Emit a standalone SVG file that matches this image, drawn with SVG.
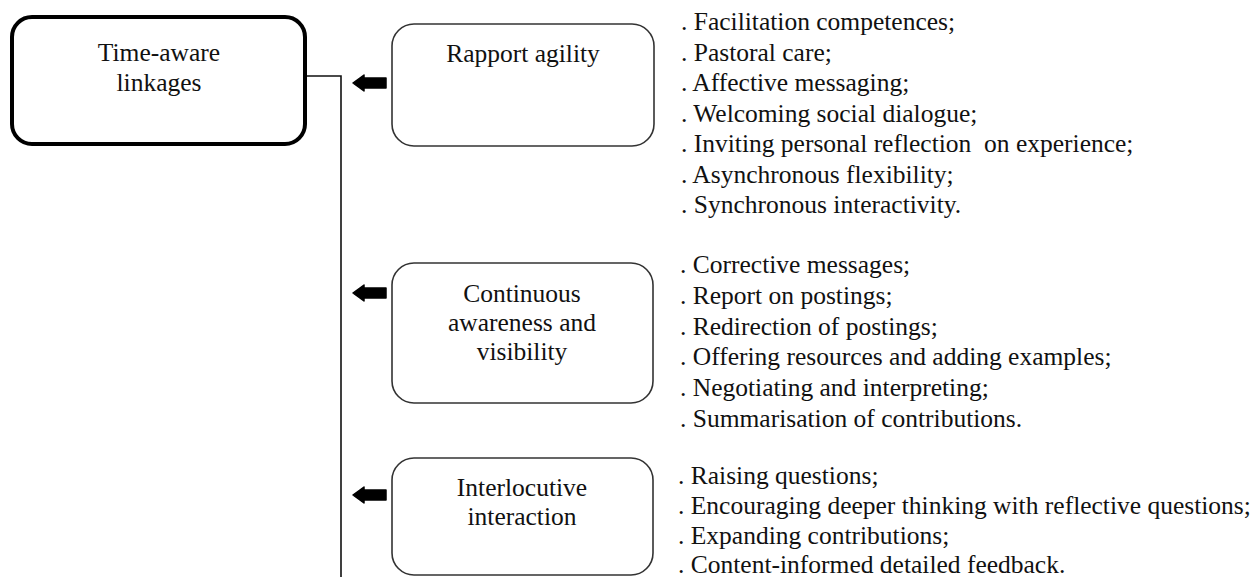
<svg xmlns="http://www.w3.org/2000/svg" width="1253" height="579" viewBox="0 0 1253 579">
  <style>
    text { font-family: "Liberation Serif", "Times New Roman", serif; font-size: 25.5px; fill: #111; }
    .c { text-anchor: middle; }
    .box { fill: #fff; stroke: #333; stroke-width: 1.6; }
    .main { fill: #fff; stroke: #000; stroke-width: 4; }
    .conn { fill: none; stroke: #111; stroke-width: 1.6; }
    .arr { fill: #000; stroke: #000; stroke-width: 1.5; stroke-linejoin: round; }
  </style>
  <defs>
    <path id="arrowL" class="arr" d="M0,0 L11,-8 L11,-5 L33,-5 L33,5 L11,5 L11,8 Z"/>
  </defs>
  <rect width="1253" height="579" fill="#fff"/>

  <g id="connectors">
    <path class="conn" d="M307,76 H341 V577"/>
    <use href="#arrowL" x="353" y="83"/>
    <use href="#arrowL" x="353" y="293"/>
    <use href="#arrowL" x="353" y="495"/>
  </g>

  <g id="node-main">
    <rect class="main" x="12" y="17" width="293" height="127" rx="20"/>
    <text class="c" x="159" y="61">Time-aware</text>
    <text class="c" x="159" y="91">linkages</text>
  </g>

  <g id="node-rapport">
    <rect class="box" x="392" y="24" width="262" height="122" rx="22"/>
    <text class="c" x="523" y="62">Rapport agility</text>
  </g>

  <g id="node-continuous">
    <rect class="box" x="392" y="263" width="261" height="140" rx="22"/>
    <text class="c" x="522" y="302">Continuous</text>
    <text class="c" x="522" y="331">awareness and</text>
    <text class="c" x="522" y="360">visibility</text>
  </g>

  <g id="node-interlocutive">
    <rect class="box" x="392" y="458" width="261" height="117" rx="22"/>
    <text class="c" x="522" y="496">Interlocutive</text>
    <text class="c" x="522" y="525">interaction</text>
  </g>

  <g id="list-rapport">
    <text x="681" y="30">. Facilitation competences;</text>
    <text x="681" y="60.5">. Pastoral care;</text>
    <text x="681" y="91">. Affective messaging;</text>
    <text x="681" y="121.5">. Welcoming social dialogue;</text>
    <text x="681" y="152" xml:space="preserve">. Inviting personal reflection  on experience;</text>
    <text x="681" y="182.5">. Asynchronous flexibility;</text>
    <text x="681" y="213">. Synchronous interactivity.</text>
  </g>

  <g id="list-continuous">
    <text x="680" y="273">. Corrective messages;</text>
    <text x="680" y="303.8">. Report on postings;</text>
    <text x="680" y="334.6">. Redirection of postings;</text>
    <text x="680" y="365.4">. Offering resources and adding examples;</text>
    <text x="680" y="396.2">. Negotiating and interpreting;</text>
    <text x="680" y="427">. Summarisation of contributions.</text>
  </g>

  <g id="list-interlocutive">
    <text x="678" y="483.5">. Raising questions;</text>
    <text x="678" y="513.5">. Encouraging deeper thinking with reflective questions;</text>
    <text x="678" y="543.5">. Expanding contributions;</text>
    <text x="678" y="573">. Content-informed detailed feedback.</text>
  </g>
</svg>
